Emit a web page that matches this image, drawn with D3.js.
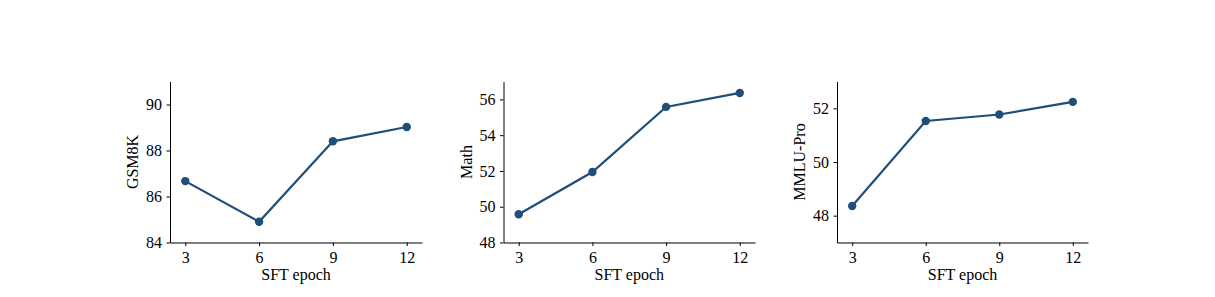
<!DOCTYPE html>
<html>
<head>
<meta charset="utf-8">
<script src="https://cdn.jsdelivr.net/npm/d3@7"></script>
<style>
  body { margin: 0; background: #fff; }
  svg { display: block; }
  text { font-family: "Liberation Serif", "Times New Roman", serif; fill: #000; }
</style>
</head>
<body>
<div id="chart"></div>
<script>
var epochs = [3, 6, 9, 12];
var gsm8k = [86.67, 84.9, 88.4, 89.02];
var math = [49.58, 51.94, 55.58, 56.36];
var mmluPro = [48.36, 51.53, 51.77, 52.24];
var panelNames = ["GSM8K", "Math", "MMLU-Pro"];
var gsmTicks = [84, 86, 88, 90];
var mathTicks = [48, 50, 52, 54, 56];
var mmluTicks = [48, 50, 52];

var color = "#1f4e79";
var W = 1215, H = 297;

var svg = d3.select("#chart").append("svg")
  .attr("width", W)
  .attr("height", H);

// each panel: left edge, right edge, y domain, ticks
var panels = [
  {name: panelNames[0], values: gsm8k, ticks: gsmTicks, yDomain: [84, 91], left: 170, right: 422},
  {name: panelNames[1], values: math, ticks: mathTicks, yDomain: [48, 57], left: 503.5, right: 755},
  {name: panelNames[2], values: mmluPro, ticks: mmluTicks, yDomain: [47, 53], left: 837, right: 1088}
];

var plotTop = 81.5, plotBottom = 242.5;

panels.forEach(function(p) {
  var x = d3.scaleLinear().domain([2.38, 12.62]).range([p.left, p.right]);
  var y = d3.scaleLinear().domain(p.yDomain).range([plotBottom, plotTop]);

  var g = svg.append("g");

  var xAxis = g.append("g")
    .attr("transform", "translate(0," + plotBottom + ")")
    .call(d3.axisBottom(x).tickValues(epochs).tickFormat(d3.format("d"))
      .tickSize(3.5).tickPadding(5.5).tickSizeOuter(0));
  var yAxis = g.append("g")
    .attr("transform", "translate(" + p.left + ",0)")
    .call(d3.axisLeft(y).tickValues(p.ticks).tickFormat(d3.format("d"))
      .tickSize(3.5).tickPadding(4.5).tickSizeOuter(0));

  [xAxis, yAxis].forEach(function(a) {
    a.attr("font-size", null).attr("font-family", null);
    a.select(".domain").attr("stroke", "#000").attr("stroke-width", 1);
    a.selectAll(".tick line").attr("stroke", "#000").attr("stroke-width", 1);
    a.selectAll(".tick text")
      .style("font-family", "'Liberation Serif', 'Times New Roman', serif")
      .style("font-size", "16px")
      .attr("fill", "#000");
  });

  g.append("text")
    .attr("x", (p.left + p.right) / 2)
    .attr("y", 280)
    .attr("text-anchor", "middle")
    .style("font-size", "16px")
    .text("SFT epoch");

  g.append("text")
    .attr("transform", "translate(" + (p.left - 32) + "," + ((plotTop + plotBottom) / 2) + ") rotate(-90)")
    .attr("text-anchor", "middle")
    .style("font-size", "16px")
    .text(p.name);

  var line = d3.line()
    .x(function(d, i) { return x(epochs[i]); })
    .y(function(d) { return y(d); });

  g.append("path")
    .datum(p.values)
    .attr("d", line)
    .attr("fill", "none")
    .attr("stroke", color)
    .attr("stroke-width", 2.2);

  g.selectAll("circle")
    .data(p.values)
    .enter().append("circle")
    .attr("cx", function(d, i) { return x(epochs[i]); })
    .attr("cy", function(d) { return y(d); })
    .attr("r", 4.2)
    .attr("fill", color);
});
</script>
</body>
</html>
